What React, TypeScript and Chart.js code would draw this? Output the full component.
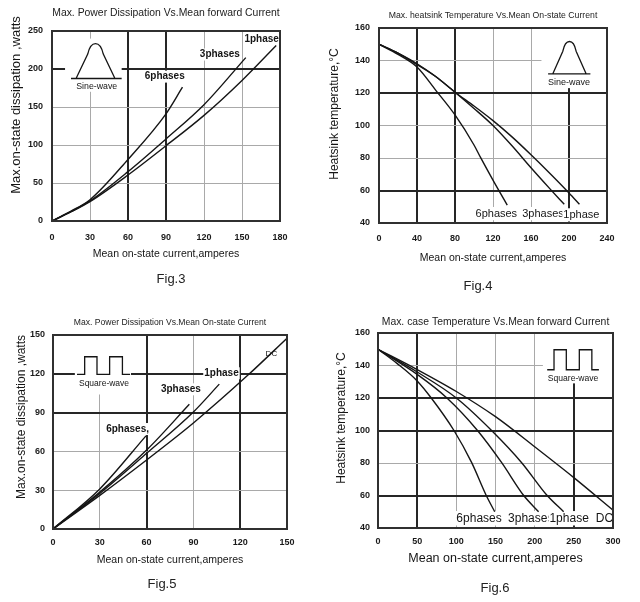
import React, { useEffect, useRef } from "react";
import { Chart, registerables } from "chart.js";

Chart.register(...registerables);

const FONT = '"Liberation Sans", Arial, Helvetica, sans-serif';
const DARK = "#262626";
const LIGHT = "#a9a9a9";
const INK = "#151515";

// ---------------- Fig.3 : power dissipation, sine wave ----------------
const fig3XTicks = [0, 30, 60, 90, 120, 150, 180];
const fig3YTicks = [0, 50, 100, 150, 200, 250];
const fig3Names = ["1phase", "3phases", "6phases"];
const fig3OnePhaseX = [0, 15, 30, 60, 90, 120, 150, 177];
const fig3OnePhaseY = [0, 12, 25.5, 60.5, 99, 139, 185, 231];
const fig3ThreePhaseX = [0, 15, 30, 60, 90, 120, 153];
const fig3ThreePhaseY = [0, 12.5, 26.5, 65, 108, 153, 215];
const fig3SixPhaseX = [0, 15, 30, 60, 90, 103];
const fig3SixPhaseY = [0, 13, 28, 81, 141, 176];

// ---------------- Fig.4 : heatsink temperature, sine wave ----------------
const fig4XTicks = [0, 40, 80, 120, 160, 200, 240];
const fig4YTicks = [40, 60, 80, 100, 120, 140, 160];
const fig4Names = ["1phase", "3phases", "6phases"];
const fig4OnePhaseX = [0, 20, 40, 60, 80, 100, 120, 140, 160, 180, 200, 211];
const fig4OnePhaseY = [150, 144.5, 137.5, 130, 120.5, 112, 103, 93, 82, 70.5, 58.5, 51.5];
const fig4ThreePhaseX = [0, 20, 40, 60, 80, 100, 120, 140, 160, 180, 195];
const fig4ThreePhaseY = [150, 144.5, 138, 130, 120.5, 110.5, 100, 87.5, 74, 61, 51.5];
const fig4SixPhaseX = [0, 20, 40, 60, 80, 100, 107, 121, 135];
const fig4SixPhaseY = [150, 143.8, 136, 121.5, 106.5, 88, 80.2, 65.3, 51];

// ---------------- Fig.5 : power dissipation, square wave ----------------
const fig5XTicks = [0, 30, 60, 90, 120, 150];
const fig5YTicks = [0, 30, 60, 90, 120, 150];
const fig5Names = ["DC", "1phase", "3phases", "6phases"];
const fig5DcX = [0, 30, 60, 90, 125, 150];
const fig5DcY = [0, 26, 53.4, 82, 119, 147.5];
const fig5OnePhaseX = [0, 30, 60, 90, 106.6];
const fig5OnePhaseY = [0, 27.5, 58.5, 90.5, 112];
const fig5ThreePhaseX = [0, 30, 60, 87.4];
const fig5ThreePhaseY = [0, 28.5, 61, 96.4];
const fig5SixPhaseX = [0, 30, 59.6];
const fig5SixPhaseY = [0, 31, 72];

// ---------------- Fig.6 : case temperature, square wave ----------------
const fig6XTicks = [0, 50, 100, 150, 200, 250, 300];
const fig6YTicks = [40, 60, 80, 100, 120, 140, 160];
const fig6Names = ["DC", "1phase", "3phases", "6phases"];
const fig6DcX = [0, 50, 100, 150, 200, 250, 300];
const fig6DcY = [150, 137.5, 124, 108.5, 90, 71, 51];
const fig6OnePhaseX = [0, 50, 100, 145, 183.4, 215.4, 237];
const fig6OnePhaseY = [150, 136, 120, 100, 80.2, 60.3, 50];
const fig6ThreePhaseX = [0, 50, 88, 127, 157.9, 185.5, 205];
const fig6ThreePhaseY = [150, 134.5, 120, 100, 80.2, 60.3, 50];
const fig6SixPhaseX = [0, 25, 50, 68, 97, 119.6, 137.9, 149];
const fig6SixPhaseY = [150, 141, 130.5, 120, 100, 80.2, 60.3, 50];

type Pt = { x: number; y: number };
const zip = (xs: number[], ys: number[]): Pt[] => xs.map((x, i) => ({ x, y: ys[i] }));

type Label = { text: string; x: number; y: number; size: number; bold: boolean };
type Wave =
  | { kind: "sine"; base: number[]; baseY: number; feet: number[]; peakY: number; text: string; tx: number; ty: number }
  | { kind: "square"; base: number[]; baseY: number; pulses: number[][]; highY: number; text: string; tx: number; ty: number };

interface Spec {
  box: { left: number; top: number; width: number; height: number };
  plot: { left: number; right: number; top: number; bottom: number };
  title: string;
  titleSize: number;
  titleY: number;
  xTicks: number[];
  yTicks: number[];
  darkX: number[];
  darkY: number[];
  xTitle: string;
  xTitleSize: number;
  xTitleY: number;
  xTickY: number;
  yTickRight: number;
  yTitle: string;
  yTitleSize: number;
  yTitleX: number;
  yTitleY: number;
  series: { name: string; xs: number[]; ys: number[] }[];
  labels: Label[];
  mask: number[]; // x0, x1, y0, y1 in data units
  wave: Wave;
  waveSize: number;
  fig: { text: string; x: number; y: number };
}

const TICK_SIZE = 9;

const specs: Spec[] = [
  {
    box: { left: 0, top: 0, width: 320, height: 300 },
    plot: { left: 52, right: 280, top: 31, bottom: 221 },
    title: "Max. Power Dissipation Vs.Mean forward Current",
    titleSize: 10.4,
    titleY: 13,
    xTicks: fig3XTicks,
    yTicks: fig3YTicks,
    darkX: [60, 90],
    darkY: [200],
    xTitle: "Mean on-state current,amperes",
    xTitleSize: 10.5,
    xTitleY: 254,
    xTickY: 238,
    yTickRight: 43,
    yTitle: "Max.on-state dissipation ,watts",
    yTitleSize: 13,
    yTitleX: 16,
    yTitleY: 105,
    series: [
      { name: fig3Names[0], xs: fig3OnePhaseX, ys: fig3OnePhaseY },
      { name: fig3Names[1], xs: fig3ThreePhaseX, ys: fig3ThreePhaseY },
      { name: fig3Names[2], xs: fig3SixPhaseX, ys: fig3SixPhaseY },
    ],
    labels: [
      { text: fig3Names[0], x: 165.5, y: 239, size: 10, bold: true },
      { text: fig3Names[1], x: 132.5, y: 219, size: 10, bold: true },
      { text: fig3Names[2], x: 89, y: 190, size: 10, bold: true },
    ],
    mask: [10.3, 55, 170, 240],
    wave: { kind: "sine", base: [15, 55], baseY: 187.5, feet: [19, 49.7], peakY: 233.5, text: "Sine-wave", tx: 35.3, ty: 176.5 },
    waveSize: 8.8,
    fig: { text: "Fig.3", x: 171, y: 278 },
  },
  {
    box: { left: 320, top: 0, width: 320, height: 300 },
    plot: { left: 59, right: 287, top: 28, bottom: 223 },
    title: "Max. heatsink Temperature Vs.Mean On-state Current",
    titleSize: 8.7,
    titleY: 16,
    xTicks: fig4XTicks,
    yTicks: fig4YTicks,
    darkX: [40, 80, 200],
    darkY: [120, 60],
    xTitle: "Mean on-state current,amperes",
    xTitleSize: 10.5,
    xTitleY: 258,
    xTickY: 239,
    yTickRight: 50,
    yTitle: "Heatsink temperature,\u00B0C",
    yTitleSize: 12,
    yTitleX: 15,
    yTitleY: 114,
    series: [
      { name: fig4Names[0], xs: fig4OnePhaseX, ys: fig4OnePhaseY },
      { name: fig4Names[1], xs: fig4ThreePhaseX, ys: fig4ThreePhaseY },
      { name: fig4Names[2], xs: fig4SixPhaseX, ys: fig4SixPhaseY },
    ],
    labels: [
      { text: fig4Names[2], x: 123.5, y: 45.8, size: 11, bold: false },
      { text: fig4Names[1], x: 172.6, y: 45.8, size: 11, bold: false },
      { text: fig4Names[0], x: 213, y: 45, size: 11, bold: false },
    ],
    mask: [171, 240, 123, 160],
    wave: { kind: "sine", base: [178, 222.5], baseY: 131.8, feet: [183, 218], peakY: 151.7, text: "Sine-wave", tx: 200, ty: 126.6 },
    waveSize: 9,
    fig: { text: "Fig.4", x: 478, y: 285 },
  },
  {
    box: { left: 0, top: 300, width: 320, height: 302 },
    plot: { left: 53, right: 287, top: 35, bottom: 229 },
    title: "Max. Power Dissipation Vs.Mean On-state Current",
    titleSize: 8.6,
    titleY: 23,
    xTicks: fig5XTicks,
    yTicks: fig5YTicks,
    darkX: [60, 120],
    darkY: [90, 120],
    xTitle: "Mean on-state current,amperes",
    xTitleSize: 10.5,
    xTitleY: 260,
    xTickY: 243,
    yTickRight: 45,
    yTitle: "Max.on-state dissipation ,watts",
    yTitleSize: 12,
    yTitleX: 22,
    yTitleY: 117,
    series: [
      { name: fig5Names[0], xs: fig5DcX, ys: fig5DcY },
      { name: fig5Names[1], xs: fig5OnePhaseX, ys: fig5OnePhaseY },
      { name: fig5Names[2], xs: fig5ThreePhaseX, ys: fig5ThreePhaseY },
      { name: fig5Names[3], xs: fig5SixPhaseX, ys: fig5SixPhaseY },
    ],
    labels: [
      { text: fig5Names[0], x: 140, y: 135.8, size: 8, bold: false },
      { text: fig5Names[1], x: 108, y: 120.4, size: 10, bold: true },
      { text: fig5Names[2], x: 82, y: 108, size: 10, bold: true },
      { text: "6phases,", x: 47.8, y: 77.3, size: 10, bold: true },
    ],
    mask: [14, 50, 104, 150],
    wave: { kind: "square", base: [15.4, 49.4], baseY: 119.5, pulses: [[20.3, 28.2], [36.3, 44.5]], highY: 133.2, text: "Square-wave", tx: 32.7, ty: 112 },
    waveSize: 8.5,
    fig: { text: "Fig.5", x: 162, y: 583 },
  },
  {
    box: { left: 320, top: 300, width: 320, height: 302 },
    plot: { left: 58, right: 293, top: 33, bottom: 228 },
    title: "Max. case Temperature Vs.Mean forward Current",
    titleSize: 10.4,
    titleY: 22,
    xTicks: fig6XTicks,
    yTicks: fig6YTicks,
    darkX: [50, 250],
    darkY: [120, 100, 60],
    xTitle: "Mean on-state current,amperes",
    xTitleSize: 12.5,
    xTitleY: 259,
    xTickY: 242,
    yTickRight: 50,
    yTitle: "Heatsink temperature,\u00B0C",
    yTitleSize: 12,
    yTitleX: 22,
    yTitleY: 118,
    series: [
      { name: fig6Names[0], xs: fig6DcX, ys: fig6DcY },
      { name: fig6Names[1], xs: fig6OnePhaseX, ys: fig6OnePhaseY },
      { name: fig6Names[2], xs: fig6ThreePhaseX, ys: fig6ThreePhaseY },
      { name: fig6Names[3], xs: fig6SixPhaseX, ys: fig6SixPhaseY },
    ],
    labels: [
      { text: fig6Names[3], x: 129, y: 46, size: 12, bold: false },
      { text: fig6Names[2], x: 195, y: 46, size: 12, bold: false },
      { text: fig6Names[1], x: 244, y: 46, size: 12, bold: false },
      { text: fig6Names[0], x: 289, y: 46, size: 12, bold: false },
    ],
    mask: [210.5, 300, 129, 160],
    wave: { kind: "square", base: [216, 282], baseY: 137.4, pulses: [[224.7, 240.4], [257, 273]], highY: 149.7, text: "Square-wave", tx: 249, ty: 131.7 },
    waveSize: 8.6,
    fig: { text: "Fig.6", x: 495, y: 587 },
  },
];

function decorPlugin(spec: Spec) {
  return {
    id: "decor",
    beforeDatasetsDraw(chart: any) {
      const { ctx } = chart;
      const xs = chart.scales.x;
      const ys = chart.scales.y;
      const X = (v: number) => xs.getPixelForValue(v);
      const Y = (v: number) => ys.getPixelForValue(v);
      ctx.save();
      // white inset behind the waveform sketch
      const [m0, m1, m2, m3] = spec.mask;
      ctx.fillStyle = "#ffffff";
      ctx.fillRect(X(m0), Y(m3), X(m1) - X(m0), Y(m2) - Y(m3));
      // waveform sketch
      const w = spec.wave;
      ctx.strokeStyle = INK;
      ctx.lineWidth = 1.3;
      ctx.beginPath();
      if (w.kind === "sine") {
        const B = Y(w.baseY);
        const P = Y(w.peakY);
        const L = X(w.feet[0]);
        const R = X(w.feet[1]);
        const wd = R - L;
        const h = B - P;
        ctx.moveTo(X(w.base[0]), B);
        ctx.lineTo(X(w.base[1]), B);
        ctx.moveTo(L, B);
        ctx.lineTo(L + 0.3 * wd, P + 0.3 * h);
        ctx.bezierCurveTo(L + 0.38 * wd, P - 0.1 * h, R - 0.38 * wd, P - 0.1 * h, R - 0.3 * wd, P + 0.3 * h);
        ctx.lineTo(R, B);
      } else {
        const B = Y(w.baseY);
        const H = Y(w.highY);
        ctx.moveTo(X(w.base[0]), B);
        for (const [a, b] of w.pulses) {
          ctx.lineTo(X(a), B);
          ctx.lineTo(X(a), H);
          ctx.lineTo(X(b), H);
          ctx.lineTo(X(b), B);
        }
        ctx.lineTo(X(w.base[1]), B);
      }
      ctx.stroke();
      ctx.fillStyle = INK;
      ctx.textAlign = "center";
      ctx.textBaseline = "middle";
      ctx.font = `${spec.waveSize}px ${FONT}`;
      ctx.fillText(w.text, X(w.tx), Y(w.ty));
      // curve labels
      for (const lb of spec.labels) {
        ctx.font = `${lb.bold ? "bold " : ""}${lb.size}px ${FONT}`;
        const tw = ctx.measureText(lb.text).width;
        const px = X(lb.x);
        const py = Y(lb.y);
        ctx.fillStyle = "#ffffff";
        ctx.fillRect(px - tw / 2 - 1, py - lb.size * 0.6, tw + 2, lb.size * 1.2);
        ctx.fillStyle = INK;
        ctx.fillText(lb.text, px, py);
      }
      ctx.restore();
    },
    afterDatasetsDraw(chart: any) {
      const { ctx, chartArea } = chart;
      ctx.save();
      ctx.strokeStyle = "#303030";
      ctx.lineWidth = 2;
      ctx.strokeRect(chartArea.left, chartArea.top, chartArea.right - chartArea.left, chartArea.bottom - chartArea.top);
      ctx.restore();
    },
    afterDraw(chart: any) {
      const { ctx } = chart;
      ctx.save();
      ctx.translate(spec.yTitleX, spec.yTitleY);
      ctx.rotate(-Math.PI / 2);
      ctx.font = `${spec.yTitleSize}px ${FONT}`;
      ctx.fillStyle = INK;
      ctx.textAlign = "center";
      ctx.textBaseline = "middle";
      ctx.fillText(spec.yTitle, 0, 0);
      ctx.restore();
    },
  };
}

function buildConfig(spec: Spec): any {
  const tickLh = TICK_SIZE * 1.2;
  const xTitleLh = spec.xTitleSize * 1.2;
  const xAxisH = spec.xTitleY + xTitleLh / 2 - spec.plot.bottom;
  const titleLh = spec.titleSize * 1.2;
  const tickFont = { family: FONT, size: TICK_SIZE, weight: "bold" as const };
  const gridFor = (dark: number[]) => ({
    drawTicks: false,
    color: (c: any) => (c.tick && dark.includes(c.tick.value) ? DARK : LIGHT),
    lineWidth: (c: any) => (c.tick && dark.includes(c.tick.value) ? 2 : 1),
  });
  return {
    type: "line",
    data: {
      datasets: spec.series.map((s) => ({
        label: s.name,
        data: zip(s.xs, s.ys),
        borderColor: INK,
        borderWidth: 1.4,
        pointRadius: 0,
        fill: false,
        cubicInterpolationMode: "monotone",
      })),
    },
    options: {
      responsive: false,
      animation: false,
      devicePixelRatio: 1,
      events: [],
      layout: {
        padding: {
          left: 0,
          top: 0,
          right: spec.box.width - spec.plot.right,
          bottom: spec.box.height - spec.plot.bottom - xAxisH,
        },
      },
      plugins: {
        legend: { display: false },
        tooltip: { enabled: false },
        title: {
          display: true,
          text: spec.title,
          fullSize: false,
          color: "#222",
          font: { family: FONT, size: spec.titleSize, weight: "normal", lineHeight: 1.2 },
          padding: { top: spec.titleY - titleLh / 2, bottom: spec.plot.top - spec.titleY - titleLh / 2 },
        },
      },
      scales: {
        x: {
          type: "linear",
          min: spec.xTicks[0],
          max: spec.xTicks[spec.xTicks.length - 1],
          ticks: {
            stepSize: spec.xTicks[1] - spec.xTicks[0],
            padding: spec.xTickY - tickLh / 2 - spec.plot.bottom,
            font: tickFont,
            color: "#1a1a1a",
            maxRotation: 0,
          },
          grid: gridFor(spec.darkX),
          border: { display: false },
          title: {
            display: true,
            text: spec.xTitle,
            color: INK,
            padding: { top: 0, bottom: 0 },
            font: { family: FONT, size: spec.xTitleSize, lineHeight: 1.2 },
          },
          afterFit: (s: any) => {
            s.height = xAxisH;
          },
        },
        y: {
          type: "linear",
          min: spec.yTicks[0],
          max: spec.yTicks[spec.yTicks.length - 1],
          ticks: {
            stepSize: spec.yTicks[1] - spec.yTicks[0],
            padding: spec.plot.left - spec.yTickRight,
            font: tickFont,
            color: "#1a1a1a",
          },
          grid: gridFor(spec.darkY),
          border: { display: false },
          afterFit: (s: any) => {
            s.width = spec.plot.left;
          },
        },
      },
    },
    plugins: [decorPlugin(spec)],
  };
}

function Panel({ spec }: { spec: Spec }) {
  const ref = useRef<HTMLCanvasElement>(null);
  useEffect(() => {
    if (!ref.current) return;
    const chart = new Chart(ref.current, buildConfig(spec));
    return () => chart.destroy();
  }, [spec]);
  return (
    <canvas
      ref={ref}
      width={spec.box.width}
      height={spec.box.height}
      style={{
        position: "absolute",
        left: spec.box.left,
        top: spec.box.top,
        width: spec.box.width,
        height: spec.box.height,
      }}
    />
  );
}

export default function App() {
  return (
    <div
      style={{
        position: "fixed",
        left: 0,
        top: 0,
        width: 640,
        height: 602,
        background: "#ffffff",
        overflow: "hidden",
        fontFamily: FONT,
      }}
    >
      {specs.map((s, i) => (
        <Panel key={i} spec={s} />
      ))}
      {specs.map((s, i) => (
        <div
          key={"fig" + i}
          style={{
            position: "absolute",
            left: s.fig.x,
            top: s.fig.y,
            transform: "translate(-50%, -50%)",
            fontSize: 13,
            color: "#222",
            whiteSpace: "nowrap",
            lineHeight: "15px",
          }}
        >
          {s.fig.text}
        </div>
      ))}
    </div>
  );
}
